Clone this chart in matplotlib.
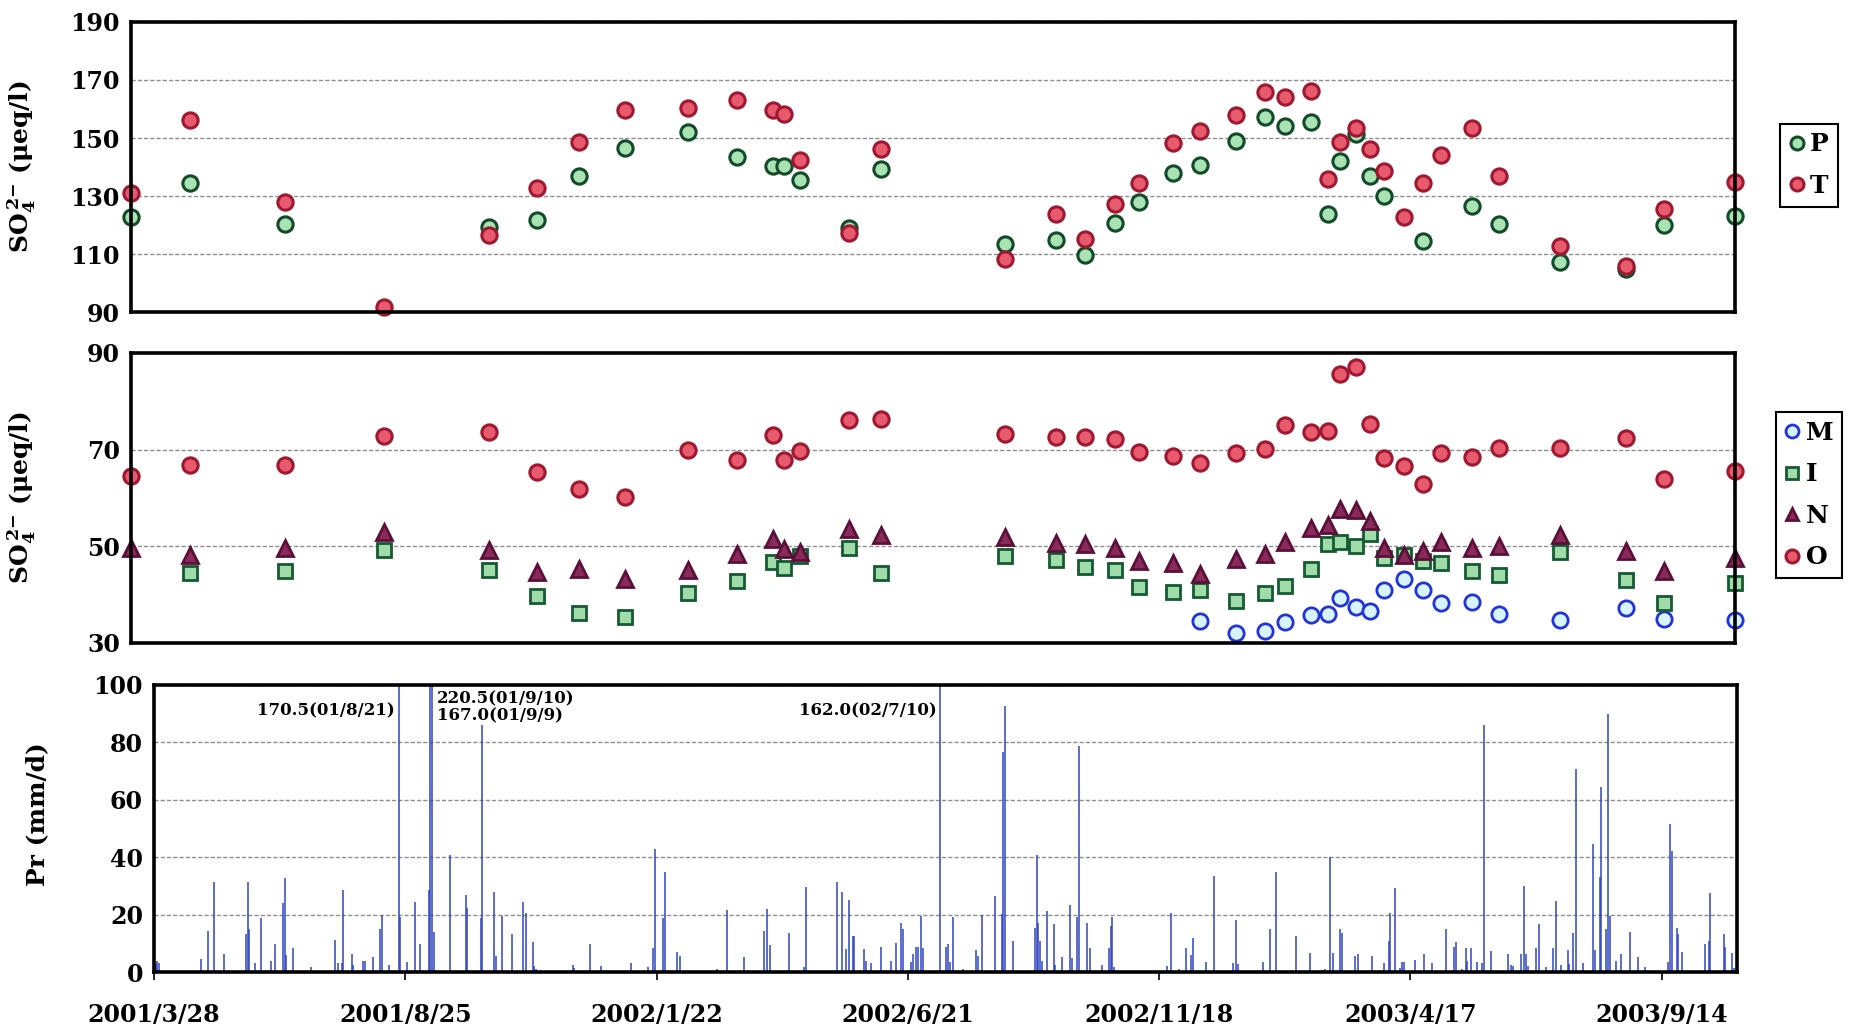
import numpy as np
import matplotlib
matplotlib.use('Agg')
import matplotlib.pyplot as plt
from datetime import datetime, timedelta

plt.rcParams['font.family'] = ['DejaVu Serif']
plt.rcParams['font.weight'] = 'bold'
plt.rcParams['axes.labelweight'] = 'bold'
plt.rcParams['mathtext.fontset'] = 'custom'
plt.rcParams['mathtext.rm'] = 'DejaVu Serif:bold'
plt.rcParams['mathtext.it'] = 'DejaVu Serif:bold'
plt.rcParams['mathtext.bf'] = 'DejaVu Serif:bold'

nan = np.nan
start = datetime(2001, 3, 28)
end = start + timedelta(days=945)

# sampling days (offset from 2001/3/28)
sample_day = [0, 35, 91, 149, 211, 239, 264, 291, 328, 357, 378, 385, 394, 423, 442,
              515, 545, 562, 580, 594, 614, 630, 651, 668, 680, 695, 705, 712, 722, 730,
              738, 750, 761, 772, 790, 806, 842, 881, 903, 945]

# SO4 2- (ueq/l), upper panel
so4_P = [122.8, 134.5, 120.5, nan, 119.2, 121.8, 136.8, 146.4, 152.2, 143.6, 140.2, 140.5, 135.6, 118.8, 139.4,
         113.5, 114.7, 109.5, 120.7, 127.8, 138.1, 140.8, 149.1, 157.1, 154.2, 155.4, 123.8, 142.2, 151.4, 136.8,
         130.1, nan, 114.4, nan, 126.7, 120.2, 107.2, 105.0, 120.0, 123.0]
so4_T = [131.1, 156.3, 127.9, 91.7, 116.6, 132.9, 148.7, 159.7, 160.2, 163.0, 159.8, 158.2, 142.4, 117.1, 146.2,
         108.3, 123.7, 115.2, 127.3, 134.4, 148.4, 152.4, 158.1, 165.9, 164.1, 166.3, 135.9, 148.5, 153.6, 146.2,
         138.6, 122.7, 134.6, 144.2, 153.6, 136.8, 112.6, 105.7, 125.5, 134.9]

# SO4 2- (ueq/l), middle panel
so4_M = [nan] * 21 + [34.6, 32.1, 32.5, 34.3, 35.7, 35.9, 39.4, 37.5, 36.6, 40.9, 43.2, 40.9, 38.2, 38.4,
                      36.0, 34.8, 37.2, 34.9, 34.8]
so4_I = [nan, 44.4, 45.0, 49.3, 45.1, 39.8, 36.2, 35.4, 40.4, 42.9, 46.7, 45.6, 48.0, 49.6, 44.4,
         48.0, 47.1, 45.7, 45.2, 41.6, 40.6, 41.0, 38.6, 40.4, 41.8, 45.4, 50.5, 50.8, 50.0, 52.6,
         47.6, 48.3, 46.9, 46.6, 45.0, 44.1, 48.8, 43.0, 38.3, 42.5]
so4_N = [49.6, 48.2, 49.6, 53.0, 49.3, 44.6, 45.3, 43.2, 45.1, 48.4, 51.5, 49.4, 48.9, 53.5, 52.4,
         52.0, 50.7, 50.5, 49.7, 46.9, 46.6, 44.2, 47.3, 48.4, 51.0, 53.8, 54.4, 57.8, 57.5, 55.3,
         49.7, 48.3, 49.0, 51.0, 49.7, 50.0, 52.3, 49.0, 44.9, 47.6]
so4_O = [64.6, 66.8, 66.8, 72.8, 73.6, 65.3, 61.9, 60.3, 69.9, 67.8, 73.0, 67.8, 69.8, 76.2, 76.4,
         73.2, 72.7, 72.7, 72.2, 69.5, 68.6, 67.2, 69.3, 70.1, 75.1, 73.7, 73.9, 85.7, 87.2, 75.3,
         68.2, 66.7, 63.0, 69.3, 68.4, 70.4, 70.3, 72.5, 63.9, 65.5]

# daily precipitation (mm/d), only rainy days listed
rain_day = [1, 2, 3, 28, 32, 36, 42, 55, 56, 57, 60, 64, 70, 72, 77, 78, 79, 83, 94,
            108, 110, 112, 113, 118, 119, 125, 126, 131, 135, 136, 140,
            146, 147, 151, 156, 159, 164, 165, 166, 167, 177, 186, 187, 195, 196, 203, 204, 208,
            214, 220, 222, 226, 227, 228, 250, 251, 260, 267, 285, 295, 298, 299, 304, 305, 312, 314,
            336, 342, 352, 364, 366, 368, 379, 388, 389, 408, 411, 413, 415, 417, 418, 424, 425, 428,
            434, 440, 443, 446, 447, 452, 453, 455, 456, 458, 459, 469, 473, 474, 475, 477,
            483, 491, 492, 494, 502, 506, 507, 508, 513, 526, 527, 528, 529, 530, 533, 537, 538,
            542, 547, 548, 551, 552, 557, 559, 566, 570, 571, 572, 573,
            605, 607, 612, 616, 619, 620, 628, 633, 644, 646, 647, 662, 666, 670, 682, 690, 697, 699,
            702, 704, 708, 709, 717, 719, 727, 734, 737, 738, 741, 744, 745, 746, 753, 758, 763,
            771, 776, 777, 781, 783, 784, 786, 790, 793, 794, 798, 808, 810, 811, 816, 818, 819, 820,
            825, 827, 831, 835, 837, 840, 844, 845, 847, 849, 853, 859, 860, 863, 864, 867, 868, 869,
            873, 876, 881, 886, 890, 904, 905, 906, 909, 910, 912, 926, 928, 929, 937, 938, 942, 943]
rain_mm = [3, 4, 3, 4.5, 14.4, 31.3, 6.4, 13.4, 31.3, 15, 3, 18.7, 3.7, 9.9, 23.9, 32.9, 5.8, 8.5, 1.7,
           11.1, 3, 3, 28.5, 6.4, 2.5, 3.9, 4, 5.4, 15, 20, 2.5,
           170.5, 19.3, 3.5, 24.5, 9.9, 28.6, 167.0, 220.5, 14, 40.9, 26.9, 22.2, 18.7, 86, 27.8, 5.5, 19.6,
           13.2, 24.5, 20.4, 10.5, 2, 1.2, 2.3, 1.5, 9.9, 2, 3.2, 1.8, 8.2, 42.9, 18.7, 34.7, 7, 5.5,
           1.2, 21.5, 5.4, 14.2, 22, 9.4, 13.6, 1.8, 29.5, 31.4, 27.8, 8, 25.2, 12.4, 12.7, 8, 3.7, 3.3,
           8.8, 3.7, 10.2, 17.1, 15.1, 3.5, 6.4, 8.8, 8.8, 19.6, 8.4, 162.0, 8.8, 9.6, 3.5, 19,
           1.2, 7.8, 5.5, 19.9, 26.5, 20.1, 76.5, 92.6, 10.8, 15.4, 40.6, 17.2, 10.8, 3.8, 21.3, 16.6, 2.3,
           5.1, 23.3, 4.9, 19, 78.7, 17.2, 8.2, 2.3, 8.4, 16, 19, 1.6,
           2, 20.7, 1, 8.2, 5.8, 11.7, 3.5, 33.6, 3.2, 18.1, 2.8, 3.5, 14.9, 35, 12.6, 6.7, 0.7, 1,
           40, 6.7, 14.9, 13.7, 5.6, 6.4, 5.6, 3.2, 10.8, 20.7, 29.3, 1.4, 3.5, 3.5, 4.3, 6.3, 3.2,
           14.9, 8.7, 10.4, 1, 8.3, 4, 8.3, 3.5, 3.2, 86.2, 7.3, 6.3, 2.3, 2, 6.1, 30.1, 6.3, 2,
           8.4, 16.8, 1.6, 8.4, 24.6, 2.3, 7.5, 2.8, 13.7, 70.6, 3.2, 44.7, 7.8, 33, 64.6, 14.9, 90, 19.5,
           3.8, 6.3, 14, 5.2, 1.6, 3.5, 51.5, 42.3, 15.2, 13.1, 6.9, 9.6, 10.8, 27.7, 13.3, 8.8, 6.7, 1.5]

# notes for the off-scale days
notes = ['170.5(01/8/21)', '220.5(01/9/10)\n167.0(01/9/9)', '162.0(02/7/10)']
note_day = [146, 166, 469]

date_ticks = ['2001/3/28', '2001/8/25', '2002/1/22', '2002/6/21', '2002/11/18', '2003/4/17', '2003/9/14']

to_date = lambda d: start + timedelta(days=int(d))
sdates = [to_date(d) for d in sample_day]
rdates = [to_date(d) for d in rain_day]

W, H = 1852, 1035
fig = plt.figure(figsize=(W / 100, H / 100), dpi=100)
fig.patch.set_facecolor('white')

ax1 = fig.add_axes([131 / W, 1 - 312 / H, 1604 / W, 290 / H])
ax2 = fig.add_axes([131 / W, 1 - 643 / H, 1604 / W, 290 / H])
ax3 = fig.add_axes([154 / W, 1 - 972 / H, 1583 / W, 287 / H])

grid_kw = dict(color='#8f8f8f', linestyle=(0, (3, 1.5)), linewidth=1.0)
so4_label = r'SO$_4^{\,2\mathrm{-}}$ (μeq/l)'
fs = 17

for ax in (ax1, ax2, ax3):
    ax.set_xlim(start, end)
    for s in ax.spines.values():
        s.set_linewidth(2.6)
    ax.yaxis.grid(True, **grid_kw)
    ax.set_axisbelow(True)
    ax.tick_params(axis='y', length=0, labelsize=fs, pad=8)

ms = 11
# upper panel
ax1.plot(sdates, so4_P, 'o', ms=ms, mfc='#a9e3b4', mec='#124a2a', mew=2.2, label='P', clip_on=False)
ax1.plot(sdates, so4_T, 'o', ms=ms, mfc='#e85a6e', mec='#a01830', mew=2.2, label='T', clip_on=False)
ax1.set_ylim(90, 190)
ax1.set_yticks(range(90, 191, 20))
ax1.set_xticks([])
ax1.set_ylabel(so4_label, fontsize=18)
ax1.yaxis.set_label_coords(-0.058, 0.5)

# middle panel
ax2.plot(sdates, so4_M, 'o', ms=ms, mfc='#d8f4fb', mec='#2233dd', mew=2.0, label='M', clip_on=False)
ax2.plot(sdates, so4_I, 's', ms=10, mfc='#9fdcaa', mec='#145a32', mew=2.0, label='I', clip_on=False)
ax2.plot(sdates, so4_N, '^', ms=11, mfc='#8a2a5a', mec='#5a1038', mew=2.0, label='N', clip_on=False)
ax2.plot(sdates, so4_O, 'o', ms=ms, mfc='#e85a6e', mec='#a01830', mew=2.2, label='O', clip_on=False)
ax2.set_ylim(30, 90)
ax2.set_yticks(range(30, 91, 20))
ax2.set_xticks([])
ax2.set_ylabel(so4_label, fontsize=18)
ax2.yaxis.set_label_coords(-0.058, 0.5)

leg_kw = dict(fontsize=18, frameon=True, fancybox=False, edgecolor='black', handlelength=0.6,
              handletextpad=0.25, borderpad=0.35, labelspacing=0.7, markerscale=0.85,
              loc='center', bbox_transform=fig.transFigure)
l1 = ax1.legend(bbox_to_anchor=(1809 / W, 1 - 165 / H), **leg_kw)
l2 = ax2.legend(bbox_to_anchor=(1809 / W, 1 - 495 / H), **leg_kw)
for lg in (l1, l2):
    lg.get_frame().set_linewidth(1.5)
    lg.get_frame().set_alpha(1)

# precipitation panel
ax3.vlines(rdates, 0, rain_mm, color='#2f45c0', linewidth=1.1)
ax3.set_ylim(0, 100)
ax3.set_yticks(range(0, 101, 20))
ax3.set_ylabel('Pr (mm/d)', fontsize=18)
ax3.yaxis.set_label_coords(-0.066, 0.55)
ax3.set_xticks([datetime.strptime(t, '%Y/%m/%d') for t in date_ticks])
ax3.set_xticklabels(date_ticks)
ax3.tick_params(axis='x', direction='out', length=6, width=1.2, labelsize=fs, pad=16)

for txt, d in zip(notes, note_day):
    x = to_date(d)
    if '\n' in txt:
        ax3.text(x + timedelta(days=3), 98, txt, fontsize=12, ha='left', va='top', linespacing=0.95)
    else:
        ax3.text(x - timedelta(days=2), 91, txt, fontsize=12, ha='right', va='center')

fig.savefig('out.png', dpi=100)
